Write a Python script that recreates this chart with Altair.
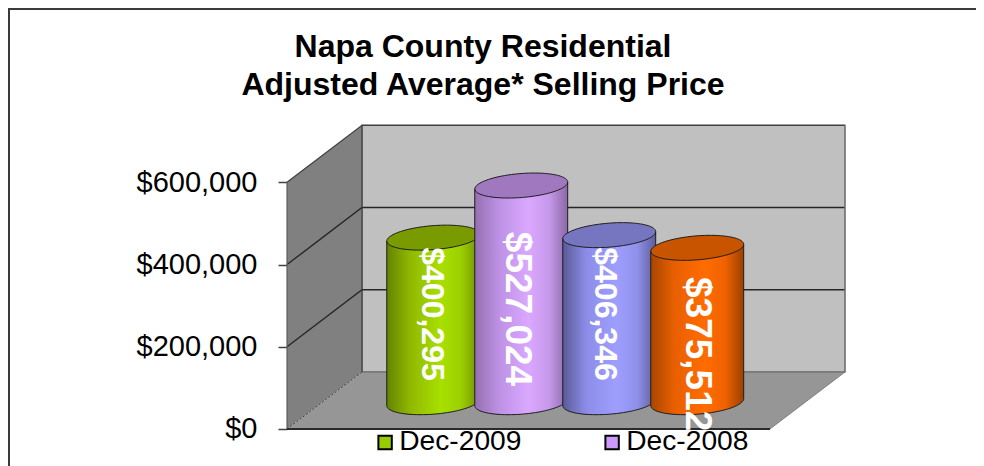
import math
import altair as alt
import pandas as pd

# ---- chart values ----
series = ["Dec-2009", "Dec-2008", "Series 3", "Series 4"]
values = [400295, 527024, 406346, 375512]
labels = ["$400,295", "$527,024", "$406,346", "$375,512"]
legend_names = ["Dec-2009", "Dec-2008"]
legend_colors = ["#99cc00", "#cc99ff"]
y_ticks = [0, 200000, 400000, 600000]
title_lines = ["Napa County Residential", "Adjusted Average* Selling Price"]

# ---- label placement (x in category units, y in $) ----
label_x = [0.39, 1.35, 2.35, 3.40]
label_y = [279700, 291900, 279700, 182000]
label_size = [32, 37, 32, 37]

# ---- styling ----
FONT = "Liberation Sans"
body_stops = [
    ["#648400", "#90b800", "#a8e000", "#9ccf00", "#6f8f00"],
    ["#9470b0", "#bc90e4", "#daa8ff", "#c698ea", "#8a68a8"],
    ["#5a5a96", "#8c8ce8", "#9e9eff", "#9090ea", "#5e5e9a"],
    ["#a84600", "#e85f00", "#ff6c00", "#f06200", "#9a4000"],
]
top_fill = ["#799b00", "#a078c0", "#7676c0", "#c85400"]
EDGE = "#1c1c1c"

# ---- scales and oblique depth projection, all in data units ----
X_DOMAIN = [-4.4318, 6.5682]
Y_DOMAIN = [-90000, 1024000]
DEPTH_X = 0.852
DEPTH_Y = 138650
X_LEFT, X_RIGHT = -1.261, 4.227
Y_TOP = 600000
BAR_DEPTH = 0.47
RX = 0.528
RY = 29200
SHEAR = 16000

xs = alt.Scale(domain=X_DOMAIN, nice=False, zero=False)
ys = alt.Scale(domain=Y_DOMAIN, nice=False, zero=False)

wall_axis = alt.Axis(
    values=y_ticks, format="$,d", title=None, grid=False, domain=False,
    offset=-279, tickSize=9, tickWidth=1.5, tickColor="#404040",
    labelFont=FONT, labelFontSize=29, labelColor="#000000", labelPadding=21,
)


def X(f="x"):
    return alt.X(f"{f}:Q", scale=xs, axis=None)


def Y(f="y"):
    return alt.Y(f"{f}:Q", scale=ys, axis=wall_axis, stack=None)


def area(rows, **mk):
    return alt.Chart(pd.DataFrame(rows)).mark_area(interpolate="linear", **mk).encode(
        x=X(), y=Y(), y2=alt.Y2("y2:Q")
    )


def path(points, color=EDGE, width=1.0, **mk):
    rows = [{"i": i, "x": p[0], "y": p[1]} for i, p in enumerate(points)]
    return alt.Chart(pd.DataFrame(rows)).mark_line(
        color=color, strokeWidth=width, interpolate="linear", **mk
    ).encode(x=X(), y=Y(), order=alt.Order("i:Q"))


def grad(colors):
    pos = [0, 0.25, 0.58, 0.8, 1]
    return alt.LinearGradient(
        gradient="linear", x1=0, x2=1, y1=0, y2=0,
        stops=[alt.GradientStop(offset=p, color=c) for p, c in zip(pos, colors)],
    )


layers = []

# back wall
bx0, bx1 = X_LEFT + DEPTH_X, X_RIGHT + DEPTH_X
layers.append(
    alt.Chart(pd.DataFrame([{"x": bx0, "x2": bx1, "y": DEPTH_Y, "y2": Y_TOP + DEPTH_Y}]))
    .mark_rect(fill="#c0c0c0", stroke="#7a7a7a", strokeWidth=1.5)
    .encode(x=X(), x2="x2:Q", y=Y(), y2="y2:Q")
)
# left wall
layers.append(area(
    [{"x": X_LEFT, "y": Y_TOP, "y2": 0},
     {"x": bx0, "y": Y_TOP + DEPTH_Y, "y2": DEPTH_Y}],
    color="#808080",
))
# floor
layers.append(area(
    [{"x": X_LEFT, "y": 0, "y2": 0},
     {"x": bx0, "y": DEPTH_Y, "y2": 0},
     {"x": X_RIGHT, "y": DEPTH_Y, "y2": 0},
     {"x": bx1, "y": DEPTH_Y, "y2": DEPTH_Y}],
    color="#969696",
))
# grid lines running along the left wall and back wall
for t in y_ticks[1:3]:
    layers.append(path([(X_LEFT, t), (bx0, t + DEPTH_Y), (bx1, t + DEPTH_Y)], color="#262626", width=1.4))
layers.append(path([(X_LEFT, Y_TOP), (bx0, Y_TOP + DEPTH_Y), (bx1, Y_TOP + DEPTH_Y)], color="#404040", width=1.3))
layers.append(path([(bx0, DEPTH_Y), (bx0, Y_TOP + DEPTH_Y)], color="#3c3c3c", width=1.2))
layers.append(path([(bx1, DEPTH_Y), (bx1, Y_TOP + DEPTH_Y)], color="#7a7a7a", width=1.2))
layers.append(path([(X_LEFT, 0), (X_LEFT, Y_TOP)], color="#5a5a5a", width=1.2))
layers.append(path([(X_LEFT, 0), (bx0, DEPTH_Y)], color="#404040", width=1, strokeDash=[2, 2]))
layers.append(path([(X_RIGHT, 0), (bx1, DEPTH_Y)], color="#808080", width=1))
layers.append(path([(bx0, DEPTH_Y), (bx1, DEPTH_Y)], color="#6a6a6a", width=1))
layers.append(path([(X_LEFT, 0), (X_RIGHT, 0)], color="#2a2a2a", width=1.8))

# cylinders, drawn left to right so each overlaps the previous one
ANGLES = [math.pi * k / 60 for k in range(61)]
for i, v in enumerate(values):
    cx = i + BAR_DEPTH * DEPTH_X
    base = BAR_DEPTH * DEPTH_Y
    pts = [(cx - RX * math.cos(a), math.sin(a)) for a in ANGLES]  # left to right

    def centre(x, level):
        return level + SHEAR * (x - cx)

    body = [
        {"x": x, "y": centre(x, base + v), "y2": centre(x, base) - RY * s}
        for x, s in pts
    ]
    lid = [
        {"x": x, "y": centre(x, base + v) + RY * s, "y2": centre(x, base + v) - RY * s}
        for x, s in pts
    ]
    layers.append(area(body, color=grad(body_stops[i])))
    layers.append(area(lid, color=top_fill[i]))
    outline = (
        [(pts[0][0], centre(pts[0][0], base + v))]
        + [(x, centre(x, base) - RY * s) for x, s in pts]
        + [(pts[-1][0], centre(pts[-1][0], base + v))]
    )
    layers.append(path(outline, width=1.0))
    loop = [(x, centre(x, base + v) + RY * s) for x, s in pts] + [
        (x, centre(x, base + v) - RY * s) for x, s in reversed(pts)
    ]
    layers.append(path(loop, width=1.0))

# rotated value labels
for i in range(len(values)):
    layers.append(
        alt.Chart(pd.DataFrame([{"x": label_x[i], "y": label_y[i], "t": labels[i]}]))
        .mark_text(angle=90, align="center", baseline="middle", font=FONT,
                   fontWeight="bold", fontSize=label_size[i], color="#ffffff")
        .encode(x=X(), y=Y(), text="t:N")
    )

# legend (only the two entries that are visible)
layers.append(
    alt.Chart(pd.DataFrame({"name": legend_names, "x": [0, 0], "y": [0, 0]}))
    .mark_square(opacity=0)
    .encode(
        x=X(), y=Y(),
        color=alt.Color(
            "name:N",
            scale=alt.Scale(domain=legend_names, range=legend_colors),
            legend=alt.Legend(
                orient="none", legendX=363, legendY=420, direction="horizontal",
                title=None, symbolType="square", symbolSize=180, symbolOpacity=1,
                symbolStrokeColor="#000000", symbolStrokeWidth=2,
                labelFont=FONT, labelFontSize=28.2, labelColor="#000000",
                labelOffset=0, columnPadding=76, padding=0,
            ),
        ),
    )
)

# chart frame: top and left edges only
layers.append(alt.Chart(pd.DataFrame({"a": [0]})).mark_rule(color="#3a3a3a", strokeWidth=2).encode(
    x=alt.value(0), x2=alt.value(968), y=alt.value(1)))
layers.append(alt.Chart(pd.DataFrame({"a": [0]})).mark_rule(color="#3a3a3a", strokeWidth=2).encode(
    x=alt.value(1), y=alt.value(0), y2=alt.value(458)))

chart = (
    alt.layer(*layers)
    .properties(
        width=968, height=458, padding=0,
        autosize=alt.AutoSizeParams(type="none"),
        background="#ffffff",
        title=alt.TitleParams(
            text=title_lines, font=FONT, fontSize=32, fontWeight="bold", color="#000000",
            anchor="middle", offset=-95, dx=-9, lineHeight=38,
        ),
    )
    .configure_view(stroke=None)
)
chart.save("out.html", embed_options={"renderer": "svg", "actions": False})
